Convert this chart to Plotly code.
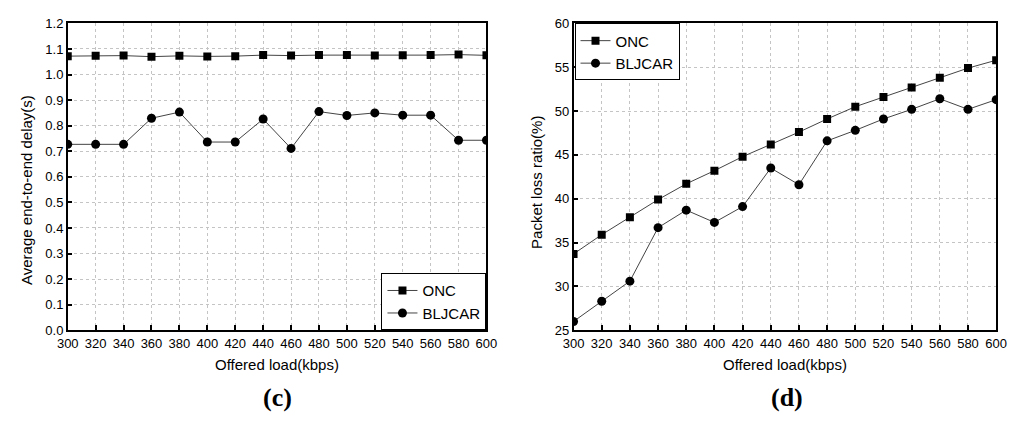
import plotly.graph_objects as go

# Data
load_kbps = [300, 320, 340, 360, 380, 400, 420, 440, 460, 480, 500, 520, 540, 560, 580, 600]

delay_onc = [1.072, 1.073, 1.074, 1.070, 1.073, 1.071, 1.072, 1.076, 1.074, 1.076,
             1.076, 1.074, 1.075, 1.076, 1.078, 1.075]
delay_bljcar = [0.727, 0.727, 0.727, 0.829, 0.853, 0.736, 0.736, 0.826, 0.711, 0.855,
                0.840, 0.850, 0.841, 0.841, 0.743, 0.743]

loss_onc = [33.7, 35.9, 37.9, 39.9, 41.7, 43.2, 44.8, 46.2, 47.6, 49.1,
            50.5, 51.6, 52.7, 53.8, 54.9, 55.8]
loss_bljcar = [26.0, 28.3, 30.6, 36.7, 38.7, 37.3, 39.1, 43.5, 41.6, 46.6,
               47.8, 49.1, 50.2, 51.4, 50.2, 51.3]

W, H = 1015, 427
FONT = "Liberation Sans, Arial, sans-serif"


def px(x):
    return x / W


def py(y):
    return 1 - y / H


fig = go.Figure()

line_style = dict(color="#444444", width=1)


def add(x, y, name, symbol, xa, ya, legend, size):
    fig.add_trace(go.Scatter(
        x=x, y=y, name=name, mode="lines+markers",
        line=line_style,
        marker=dict(symbol=symbol, size=size, color="black"),
        xaxis=xa, yaxis=ya, legend=legend,
    ))


add(load_kbps, delay_onc, "ONC", "square", "x", "y", "legend", 8)
add(load_kbps, delay_bljcar, "BLJCAR", "circle", "x", "y", "legend", 9)
add(load_kbps, loss_onc, "ONC", "square", "x2", "y2", "legend2", 8)
add(load_kbps, loss_bljcar, "BLJCAR", "circle", "x2", "y2", "legend2", 9)

ytop = py(17)
ybot = py(335)

axis_common = dict(
    showline=True, linecolor="black", linewidth=1.5, mirror=True,
    ticks="inside", ticklen=5, tickwidth=1.5, tickcolor="black",
    showgrid=True, gridcolor="#c4c4c4", gridwidth=1, griddash="3px,3px",
    zeroline=False,
    tickfont=dict(family=FONT, size=13, color="black"),
)

legend_common = dict(bgcolor="white", bordercolor="black", borderwidth=1,
                     font=dict(family=FONT, size=15, color="black"),
                     tracegroupgap=0, itemwidth=30)

fig.update_layout(
    width=W, height=H,
    margin=dict(l=0, r=0, t=0, b=0),
    paper_bgcolor="white", plot_bgcolor="white",
    xaxis=dict(domain=[px(58), px(486)], anchor="y", range=[300, 600], dtick=20,
               tick0=300, **axis_common),
    yaxis=dict(domain=[ybot, ytop], anchor="x", range=[0, 1.2], dtick=0.1,
               tickformat=".1f", **axis_common),
    xaxis2=dict(domain=[px(575), px(1007)], anchor="y2", range=[300, 600], dtick=20,
                tick0=300, **axis_common),
    yaxis2=dict(domain=[ybot, ytop], anchor="x2", range=[25, 60], dtick=5,
                **axis_common),
    legend=dict(x=px(486), y=ybot, xanchor="right", yanchor="bottom", **legend_common),
    legend2=dict(x=px(576), y=ytop, xanchor="left", yanchor="top", **legend_common),
    showlegend=True,
)

annots = [
    dict(text="Average end-to-end delay(s)", x=px(16), y=py(190), textangle=-90,
         font=dict(family=FONT, size=15, color="black")),
    dict(text="Packet loss ratio(%)", x=px(537), y=py(182), textangle=-90,
         font=dict(family=FONT, size=15, color="black")),
    dict(text="Offered load(kbps)", x=px(272), y=py(371),
         font=dict(family=FONT, size=15, color="black")),
    dict(text="Offered load(kbps)", x=px(791), y=py(371),
         font=dict(family=FONT, size=15, color="black")),
    dict(text="<b>(c)</b>", x=px(272), y=py(405),
         font=dict(family="Liberation Serif, Times New Roman, serif", size=26, color="black")),
    dict(text="<b>(d)</b>", x=px(793), y=py(405),
         font=dict(family="Liberation Serif, Times New Roman, serif", size=26, color="black")),
]
for a in annots:
    fig.add_annotation(xref="paper", yref="paper", showarrow=False,
                       xanchor="center", yanchor="middle", **a)

fig.write_html("out.html")
